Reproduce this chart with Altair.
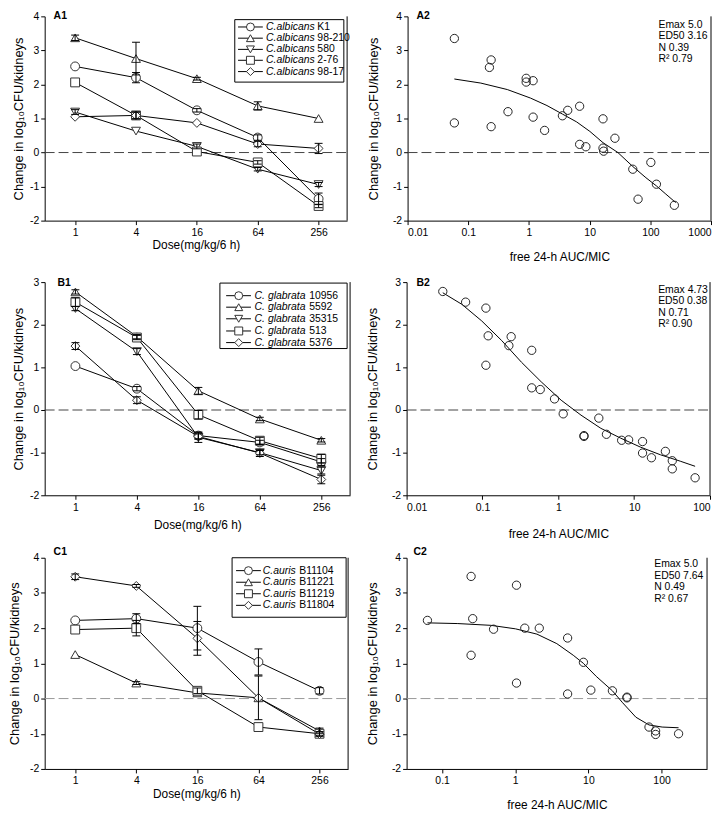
import altair as alt
import pandas as pd

FONT = "Liberation Sans"
Y_TITLE = "Change in log\u2081\u2080CFU/kidneys"
X1_TITLE = "Dose(mg/kg/6 h)"
X2_TITLE = "free 24-h AUC/MIC"

doses = [1, 4, 16, 64, 256]

# ---------------- A : C. albicans ----------------
a_species = "C.albicans"
a_strains = ["K1", "98-210", "580", "2-76", "98-17"]
a_shapes = ["circle", "triangle-up", "triangle-down", "square", "diamond"]
a_means = [
    [2.53, 2.20, 1.24, 0.44, -1.36],
    [3.37, 2.76, 2.17, 1.37, 1.00],
    [1.19, 0.63, 0.18, -0.49, -0.94],
    [2.06, 1.09, 0.03, -0.29, -1.57],
    [1.05, 1.09, 0.87, 0.25, 0.12],
]
a_sd = [
    [0, 0.15, 0.05, 0.08, 0.17],
    [0.08, 0.48, 0.04, 0.12, 0],
    [0.07, 0, 0.07, 0.05, 0.06],
    [0, 0.10, 0, 0.05, 0.05],
    [0, 0.10, 0, 0.08, 0.15],
]
a2_x = [0.059, 0.059, 0.223, 0.238, 0.238, 0.451, 0.90, 0.90, 1.17, 1.17, 1.81, 3.56, 4.35,
        6.84, 6.84, 8.67, 16.6, 16.6, 17.0, 26.1, 51.4, 62.8, 102, 126, 249]
a2_y = [3.35, 0.87, 2.50, 2.72, 0.76, 1.20, 2.18, 2.07, 2.11, 1.04, 0.65, 1.08, 1.24,
        1.36, 0.24, 0.17, 0.99, 0.13, 0.04, 0.42, -0.49, -1.37, -0.29, -0.93, -1.55]
a2_cx = [0.059, 0.161, 0.440, 1.06, 1.98, 3.56, 6.1, 10.1, 16.6, 29.2, 51.4, 84.7, 126, 180, 262]
a2_cy = [2.16, 2.04, 1.85, 1.60, 1.38, 1.13, 0.90, 0.62, 0.29, 0.00, -0.41, -0.74, -0.98, -1.22, -1.47]
a2_text = ["Emax 5.0", "ED50 3.16", "N 0.39", "R\u00b2 0.79"]

# ---------------- B : C. glabrata ----------------
b_species = "C. glabrata"
b_strains = ["10956", "5592", "35315", "513", "5376"]
b_shapes = ["circle", "triangle-up", "triangle-down", "square", "diamond"]
b_means = [
    [1.03, 0.50, -0.60, -0.76, -1.22],
    [2.77, 1.72, 0.45, -0.21, -0.71],
    [2.38, 1.37, -0.64, -1.00, -1.42],
    [2.53, 1.70, -0.11, -0.72, -1.14],
    [1.50, 0.23, -0.62, -1.01, -1.63],
]
b_sd = [
    [0, 0.05, 0.08, 0.05, 0.08],
    [0.05, 0.05, 0.08, 0.04, 0.04],
    [0.05, 0.07, 0.12, 0.05, 0.08],
    [0.10, 0.05, 0.10, 0.08, 0.10],
    [0.08, 0.08, 0.06, 0.08, 0.10],
]
b2_x = [0.030, 0.060, 0.111, 0.119, 0.111, 0.223, 0.239, 0.446, 0.446, 0.578, 0.891, 1.16, 2.18,
        2.18, 3.42, 4.31, 6.84, 8.45, 12.9, 12.9, 16.9, 25.8, 31.8, 31.8, 63.6]
b2_y = [2.78, 2.53, 2.39, 1.74, 1.05, 1.51, 1.72, 1.40, 0.52, 0.48, 0.26, -0.09, -0.60,
        -0.62, -0.19, -0.57, -0.71, -0.70, -0.74, -1.01, -1.12, -0.97, -1.19, -1.38, -1.59]
b2_cx = [0.030, 0.0534, 0.0977, 0.179, 0.327, 0.596, 1.09, 1.99, 3.64, 6.64, 12.1, 22.2, 40.5, 63.6]
b2_cy = [2.75, 2.48, 2.09, 1.63, 1.12, 0.66, 0.23, -0.12, -0.43, -0.66, -0.87, -1.05, -1.20, -1.32]
b2_text = ["Emax 4.73", "ED50 0.38", "N 0.71", "R\u00b2 0.90"]

# ---------------- C : C. auris ----------------
c_species = "C.auris"
c_strains = ["B11104", "B11221", "B11219", "B11804"]
c_shapes = ["circle", "triangle-up", "square", "diamond"]
c_means = [
    [2.22, 2.27, 2.00, 1.04, 0.22],
    [1.25, 0.44, 0.16, 0.02, -0.92],
    [1.96, 2.00, 0.22, -0.81, -1.00],
    [3.46, 3.20, 1.71, 0.02, -1.01],
]
c_sd = [
    [0, 0.14, 0.62, 0.37, 0.09],
    [0, 0.04, 0, 0, 0.08],
    [0, 0.22, 0.08, 0, 0.06],
    [0.08, 0.04, 0.48, 0.62, 0.06],
]
c2_x = [0.063, 0.249, 0.262, 0.249, 0.505, 1.04, 1.04, 1.35, 2.13, 5.2, 5.2, 8.55, 10.8, 21.3,
        33.7, 33.7, 67.4, 83, 83, 171]
c2_y = [2.22, 3.47, 2.27, 1.23, 1.97, 3.22, 0.44, 2.00, 2.00, 1.72, 0.13, 1.03, 0.24, 0.22,
        0.04, 0.02, -0.81, -0.92, -1.02, -1.00]
c2_cx = [0.063, 0.164, 0.465, 1.01, 1.98, 3.70, 6.21, 8.55, 12.8, 21.3, 29.4, 44.6, 67.4, 102, 171]
c2_cy = [2.15, 2.13, 2.08, 1.98, 1.83, 1.56, 1.23, 1.00, 0.63, 0.22, -0.12, -0.53, -0.75, -0.81, -0.83]
c2_text = ["Emax 5.0", "ED50 7.64", "N 0.49", "R\u00b2 0.67"]


def one():
    return pd.DataFrame({"k": [0]})


def txt(s, x, y, **kw):
    props = dict(text=s, font=FONT, fontSize=10.5, align="left", baseline="middle", color="black")
    props.update(kw)
    return alt.Chart(one()).mark_text(**props).encode(x=alt.value(x), y=alt.value(y))


def frame_and_label(w, h, label, lx, ly):
    fr = alt.Chart(one()).mark_rule(color="black", strokeWidth=1).encode(
        x=alt.value(w), y=alt.value(0), y2=alt.value(h))
    lab = txt(label, lx, ly, fontWeight="bold", fontSize=10.5)
    return [fr, lab]


def yaxis(ydom, tpy):
    return alt.Axis(values=list(range(ydom[0], ydom[1] + 1)), labelExpr="datum.value + ''",
                    title=Y_TITLE, titlePadding=tpy)


def left_panel(label, lxy, species, strains, means, sds, shapes, w, h, ydom, tpy, tpx,
               zero_color, leg):
    rows = []
    for s, m, e in zip(strains, means, sds):
        for d, v, sd in zip(doses, m, e):
            rows.append({"strain": s, "dose": d, "mean": v, "lo": v - sd, "hi": v + sd, "sd": sd})
    df = pd.DataFrame(rows)
    edf = df[df.sd > 0]
    xs = alt.Scale(type="log", base=2, domain=[0.5, 490], nice=False)
    ys = alt.Scale(domain=ydom, nice=False, zero=False)
    xax = alt.Axis(values=doses, labelExpr="datum.value + ''", title=X1_TITLE, titlePadding=tpx)
    yax = yaxis(ydom, tpy)
    X = alt.X("dose:Q", scale=xs, axis=xax)
    shape = alt.Shape("strain:N", scale=alt.Scale(domain=strains, range=shapes), legend=None)

    zero = alt.Chart(pd.DataFrame({"z": [0]})).mark_rule(
        color=zero_color, strokeDash=[10, 4], strokeWidth=1).encode(
        y=alt.Y("z:Q", scale=ys, axis=yax), x=alt.value(0), x2=alt.value(w))
    lines = alt.Chart(df).mark_line(color="black", strokeWidth=1).encode(
        x=X, y=alt.Y("mean:Q", scale=ys, axis=yax), detail="strain:N")
    pts = alt.Chart(df).mark_point(size=80, fill="white", fillOpacity=1, stroke="#333",
                                   strokeWidth=1, opacity=1).encode(
        x=X, y=alt.Y("mean:Q", scale=ys, axis=yax), shape=shape)
    ebar = alt.Chart(edf).mark_rule(color="black", strokeWidth=1).encode(
        x=X, y=alt.Y("lo:Q", scale=ys, axis=yax), y2="hi:Q")
    cap_lo = alt.Chart(edf).mark_tick(orient="horizontal", size=8, thickness=1, color="black",
                                      opacity=1).encode(x=X, y=alt.Y("lo:Q", scale=ys, axis=yax))
    cap_hi = alt.Chart(edf).mark_tick(orient="horizontal", size=8, thickness=1, color="black",
                                      opacity=1).encode(x=X, y=alt.Y("hi:Q", scale=ys, axis=yax))
    layers = [zero, lines, pts, ebar, cap_lo, cap_hi]

    bx0, bx1, by0, by1 = leg["box"]
    layers.append(alt.Chart(one()).mark_rect(fill="white", stroke="black", strokeWidth=1).encode(
        x=alt.value(bx0), x2=alt.value(bx1), y=alt.value(by0), y2=alt.value(by1)))
    lx0, lx1 = leg["line"]
    for i, (s, shp) in enumerate(zip(strains, shapes)):
        ry = leg["rows"][i]
        layers.append(alt.Chart(one()).mark_rule(color="black", strokeWidth=1).encode(
            x=alt.value(lx0), x2=alt.value(lx1), y=alt.value(ry)))
        layers.append(alt.Chart(one()).mark_point(shape=shp, size=64, fill="white", fillOpacity=1,
                                                  stroke="#333", strokeWidth=1, opacity=1).encode(
            x=alt.value(leg["mx"]), y=alt.value(ry)))
        layers.append(txt(species, leg["tx"], ry, fontStyle="italic"))
        layers.append(txt(s, leg["tx"] + leg["dx"], ry))
    layers += frame_and_label(w, h, label, lxy[0], lxy[1])
    return alt.layer(*layers).properties(width=w, height=h)


def right_panel(label, lxy, px, py, cx, cy, w, h, ydom, xdom, xticks, tpy, tpx, zero_color,
                ann, ax, arows):
    xs = alt.Scale(type="log", domain=xdom, nice=False)
    ys = alt.Scale(domain=ydom, nice=False, zero=False)
    xax = alt.Axis(values=xticks, labelExpr="datum.value + ''", title=X2_TITLE, titlePadding=tpx)
    yax = yaxis(ydom, tpy)
    zero = alt.Chart(pd.DataFrame({"z": [0]})).mark_rule(
        color=zero_color, strokeDash=[10, 4], strokeWidth=1).encode(
        y=alt.Y("z:Q", scale=ys, axis=yax), x=alt.value(0), x2=alt.value(w))
    curve = alt.Chart(pd.DataFrame({"x": cx, "y": cy})).mark_line(
        color="black", strokeWidth=1).encode(
        x=alt.X("x:Q", scale=xs, axis=xax), y=alt.Y("y:Q", scale=ys, axis=yax))
    pts = alt.Chart(pd.DataFrame({"x": px, "y": py})).mark_point(
        shape="circle", size=70, filled=False, stroke="#222", strokeWidth=1, opacity=1).encode(
        x=alt.X("x:Q", scale=xs, axis=xax), y=alt.Y("y:Q", scale=ys, axis=yax))
    layers = [zero, curve, pts]
    for t, ry in zip(ann, arows):
        layers.append(txt(t, ax, ry))
    layers += frame_and_label(w, h, label, lxy[0], lxy[1])
    return alt.layer(*layers).properties(width=w, height=h)


A1 = left_panel("A1", (9, 0), a_species, a_strains, a_means, a_sd, a_shapes, 305, 206, [-2, 4],
                4, 2, "#444",
                {"box": (191.7, 301.7, 3.3, 66.3), "rows": [10.7, 22.0, 33.3, 44.3, 55.7],
                 "line": (195, 220), "mx": 207.5, "tx": 223.3, "dx": 51.7})
A2 = right_panel("A2", (9, 0), a2_x, a2_y, a2_cx, a2_cy, 306, 206, [-2, 4], [0.01, 1000],
                 [0.01, 0.1, 1, 10, 100, 1000], 12, 14, "#444", a2_text, 253, [8.5, 20, 31.5, 43])
B1 = left_panel("B1", (13, 0.5), b_species, b_strains, b_means, b_sd, b_shapes, 308, 215, [-2, 3],
                4, 7, "#444",
                {"box": (176.7, 305, 1, 67), "rows": [13.7, 25.3, 37, 49.3, 61],
                 "line": (183, 208), "mx": 195.7, "tx": 211.7, "dx": 55})
B2 = right_panel("B2", (10, 0.5), b2_x, b2_y, b2_cx, b2_cy, 306, 215, [-2, 3], [0.01, 100],
                 [0.01, 0.1, 1, 10, 100], 12, 16, "#444", b2_text, 253.7, [7.7, 19.3, 31, 42.7])
C1 = left_panel("C1", (9, -6), c_species, c_strains, c_means, c_sd, c_shapes, 306, 213, [-2, 4],
                8, 2, "#999",
                {"box": (189, 304, 0, 60), "rows": [13, 24.7, 36.3, 48],
                 "line": (193, 218), "mx": 205.5, "tx": 220, "dx": 36.7})
C2 = right_panel("C2", (7, -6), c2_x, c2_y, c2_cx, c2_cy, 303, 213, [-2, 4], [0.0327, 419],
                 [0.1, 1, 10, 100], 12, 13, "#999", c2_text, 249.7, [6.3, 18, 29.7, 41.3])

rowA = alt.hconcat(A1, A2, spacing=17).resolve_scale(shape="independent")
rowB = alt.hconcat(B1, B2, spacing=15).resolve_scale(shape="independent")
rowC = alt.hconcat(C1, C2, spacing=17).resolve_scale(shape="independent")
rowsBC = alt.vconcat(rowB, rowC, spacing=7).resolve_scale(shape="independent")

chart = alt.vconcat(rowA, rowsBC, spacing=14).resolve_scale(
    shape="independent").properties(padding=0).configure(font=FONT).configure_view(
    stroke=None).configure_axis(
    labelFont=FONT, titleFont=FONT, labelFontSize=10.5, titleFontSize=12,
    labelColor="black", titleColor="black", domainColor="black", tickColor="black",
    tickSize=4, grid=False, titleFontWeight="normal", labelPadding=2,
    domainWidth=1, tickWidth=1,
).configure_axisY(titleFontSize=13).configure_axisX(labelPadding=3)

chart.save("out.html", embed_options={"renderer": "svg", "actions": False})
